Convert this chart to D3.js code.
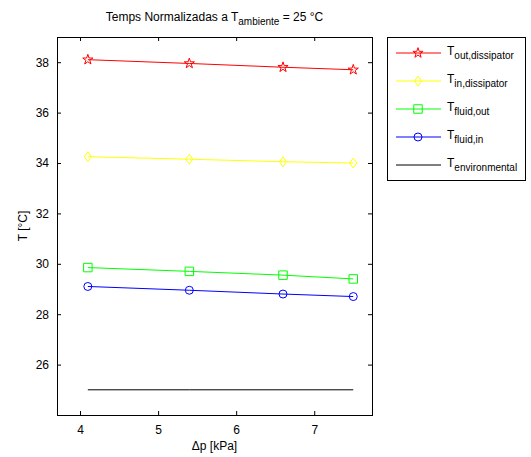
<!DOCTYPE html>
<meta charset="utf-8">
<script src="https://d3js.org/d3.v7.min.js"></script>
<style>
  body { margin: 0; background: #fff; }
  text { font-family: "Liberation Sans", Arial, sans-serif; }
</style>
<div id="chart"></div>
<script>
// data
var dp = [4.1, 5.4, 6.6, 7.5];
var tOutDiss = [38.1, 37.95, 37.8, 37.7];
var tInDiss = [34.25, 34.15, 34.05, 34.0];
var tFluidOut = [29.85, 29.7, 29.55, 29.4];
var tFluidIn = [29.1, 28.95, 28.8, 28.7];
var tEnv = [25, 25, 25, 25];
var xTicks = [4, 5, 6, 7];
var yTicks = [26, 28, 30, 32, 34, 36, 38];

var series = [
  {name: "out,dissipator", values: tOutDiss, color: "#ff0000", marker: "star"},
  {name: "in,dissipator", values: tInDiss, color: "#ffff00", marker: "diamond"},
  {name: "fluid,out", values: tFluidOut, color: "#00ff00", marker: "square"},
  {name: "fluid,in", values: tFluidIn, color: "#0000ff", marker: "circle"},
  {name: "environmental", values: tEnv, color: "#000000", marker: null}
];

var W = 531, H = 457;
var margin = {top: 37, left: 57, right: W - 372, bottom: H - 415};
var width = W - margin.left - margin.right,
    height = H - margin.top - margin.bottom;

var svg = d3.select("#chart").append("svg")
    .attr("width", W).attr("height", H);
var g = svg.append("g")
    .attr("transform", "translate(" + margin.left + "," + margin.top + ")");

var x = d3.scaleLinear().domain([3.705, 7.74]).range([0, width]);
var y = d3.scaleLinear().domain([24, 39]).range([height, 0]);

// axes, matlab style ticks pointing inward
function styleAxis(sel) {
  sel.select(".domain").remove();
  sel.selectAll("line").attr("stroke", "#000");
  sel.selectAll("text").style("font-size", "12px").attr("fill", "#000");
}
g.append("g").attr("transform", "translate(0," + height + ")")
  .call(d3.axisBottom(x).tickValues(xTicks).tickSize(-4).tickPadding(10).tickFormat(d3.format("d")))
  .call(styleAxis);
g.append("g")
  .call(d3.axisTop(x).tickValues(xTicks).tickSize(-4).tickFormat(""))
  .call(styleAxis);
g.append("g")
  .call(d3.axisLeft(y).tickValues(yTicks).tickSize(-4).tickPadding(8))
  .call(styleAxis);
g.append("g").attr("transform", "translate(" + width + ",0)")
  .call(d3.axisRight(y).tickValues(yTicks).tickSize(-4).tickFormat(""))
  .call(styleAxis);
g.append("rect").attr("width", width).attr("height", height)
  .attr("fill", "none").attr("stroke", "#000").attr("stroke-width", 1)
  .attr("shape-rendering", "crispEdges");

function markerPath(type) {
  if (type == "star") return d3.symbol(d3.symbolStar, 32)();
  if (type == "diamond") return "M0,-5L3.5,0L0,5L-3.5,0Z";
  if (type == "square") return d3.symbol(d3.symbolSquare, 72)();
  if (type == "circle") return d3.symbol(d3.symbolCircle, 50)();
  return null;
}

var line = d3.line()
  .x(function(d, i) { return x(dp[i]); })
  .y(function(d) { return y(d); });

series.forEach(function(s) {
  g.append("path").datum(s.values)
    .attr("d", line)
    .attr("fill", "none")
    .attr("stroke", s.color)
    .attr("stroke-width", 1);
  if (s.marker) {
    g.selectAll(null).data(s.values).enter().append("path")
      .attr("transform", function(d, i) { return "translate(" + x(dp[i]) + "," + y(d) + ")"; })
      .attr("d", markerPath(s.marker))
      .attr("fill", "none")
      .attr("stroke", s.color)
      .attr("stroke-width", 1);
  }
});

// title
var title = svg.append("text")
  .attr("x", margin.left + width / 2).attr("y", 21)
  .attr("text-anchor", "middle").style("font-size", "12px");
title.append("tspan").text("Temps Normalizadas a T");
title.append("tspan").attr("dy", 4).style("font-size", "10px").text("ambiente");
title.append("tspan").attr("dy", -4).text(" = 25 \u00b0C");

// axis labels
svg.append("text")
  .attr("x", margin.left + width / 2).attr("y", 450)
  .attr("text-anchor", "middle").style("font-size", "12px")
  .text("\u0394p [kPa]");
svg.append("text")
  .attr("transform", "translate(27," + (margin.top + height / 2) + ") rotate(-90)")
  .attr("text-anchor", "middle").style("font-size", "12px")
  .text("T [\u00b0C]");

// legend
var legend = svg.append("g").attr("transform", "translate(387,37)");
legend.append("rect").attr("width", 138).attr("height", 143)
  .attr("fill", "#fff").attr("stroke", "#000")
  .attr("shape-rendering", "crispEdges");
series.forEach(function(s, i) {
  var ly = 16 + i * 28;
  legend.append("line").attr("x1", 9).attr("x2", 54)
    .attr("y1", ly).attr("y2", ly).attr("stroke", s.color);
  if (s.marker) {
    legend.append("path").attr("transform", "translate(31," + ly + ")")
      .attr("d", markerPath(s.marker))
      .attr("fill", "none").attr("stroke", s.color);
  }
  var t = legend.append("text").attr("x", 60).attr("y", ly + 2)
    .style("font-size", "12px");
  t.append("tspan").text("T");
  t.append("tspan").attr("dy", 4).style("font-size", "10px").text(s.name);
});
</script>
